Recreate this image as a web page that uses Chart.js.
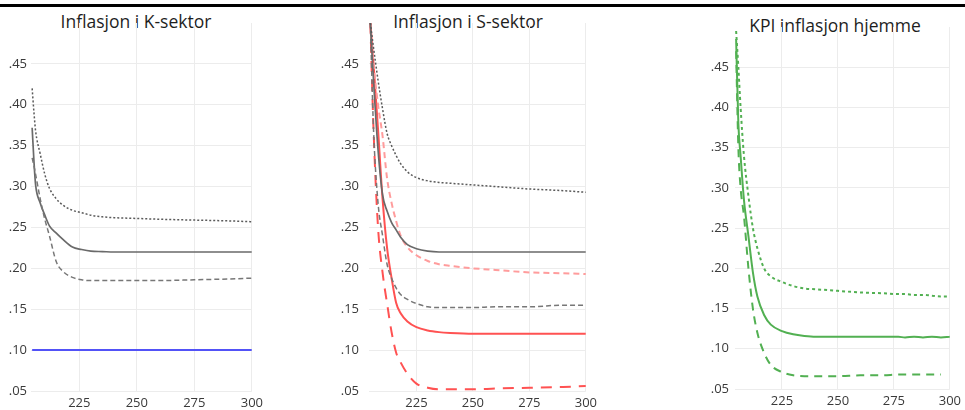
<!DOCTYPE html>
<html>
<head>
<meta charset="utf-8">
<script src="https://cdn.jsdelivr.net/npm/chart.js@4.4.1/dist/chart.umd.min.js"></script>
<style>
  body { margin: 0; width: 965px; height: 410px; background: #fff; position: relative; overflow: hidden; }
  .topbar { position: absolute; left: 0; top: 4px; width: 965px; height: 3px; background: #000; }
  canvas { position: absolute; top: 0; }
  .tittel { position: absolute; font-family: 'Open Sans', 'Noto Sans', sans-serif; font-size: 17.5px; line-height: 20px; color: #1e1e1e; white-space: nowrap; transform: translateX(-50%); }
</style>
</head>
<body>
<div class="topbar"></div>
<div class="tittel" style="left:136px; top:11px;">Inflasjon i K-sektor</div>
<div class="tittel" style="left:468px; top:11px;">Inflasjon i S-sektor</div>
<div class="tittel" style="left:835px; top:15px;">KPI inflasjon hjemme</div>
<canvas id="chartK" width="267" height="410" style="left:0px"></canvas>
<canvas id="chartS" width="271" height="410" style="left:330px"></canvas>
<canvas id="chartH" width="275" height="410" style="left:690px"></canvas>
<script>
// akser
const xTicks = [225, 250, 275, 300];
const yTicks = [0.05, 0.10, 0.15, 0.20, 0.25, 0.30, 0.35, 0.40, 0.45];

// K-sektor
const xK = [204.5, 205.3, 206, 208, 210, 212, 215, 218, 222, 226, 230, 235, 240, 250, 260, 275, 290, 300];
const kOvre = [0.42, 0.39, 0.368, 0.34, 0.315, 0.298, 0.285, 0.277, 0.271, 0.268, 0.265, 0.263, 0.262, 0.261, 0.26, 0.259, 0.258, 0.257];
const kMidt = [0.372, 0.33, 0.302, 0.28, 0.265, 0.252, 0.243, 0.235, 0.226, 0.223, 0.221, 0.2205, 0.22, 0.22, 0.22, 0.22, 0.22, 0.22];
const kNedre = [0.335, 0.325, 0.315, 0.285, 0.26, 0.24, 0.208, 0.196, 0.189, 0.186, 0.185, 0.185, 0.185, 0.185, 0.185, 0.186, 0.187, 0.188];
const kMaal = [0.10, 0.10, 0.10, 0.10, 0.10, 0.10, 0.10, 0.10, 0.10, 0.10, 0.10, 0.10, 0.10, 0.10, 0.10, 0.10, 0.10, 0.10];

// S-sektor
const xS = [204.6, 206, 208, 210, 212, 214, 216, 218, 221, 225, 230, 235, 240, 250, 260, 275, 290, 300];
const sGraOvre = [0.50, 0.47, 0.43, 0.395, 0.365, 0.35, 0.338, 0.328, 0.318, 0.311, 0.307, 0.305, 0.304, 0.302, 0.30, 0.297, 0.295, 0.293];
const sGraMidt = [0.50, 0.43, 0.345, 0.29, 0.27, 0.256, 0.247, 0.238, 0.229, 0.224, 0.221, 0.22, 0.22, 0.22, 0.22, 0.22, 0.22, 0.22];
const sGraNedre = [0.50, 0.37, 0.28, 0.24, 0.205, 0.188, 0.176, 0.168, 0.162, 0.157, 0.153, 0.152, 0.152, 0.152, 0.153, 0.153, 0.155, 0.155];
const sRodOvre = [0.50, 0.45, 0.40, 0.362, 0.31, 0.28, 0.258, 0.24, 0.226, 0.216, 0.209, 0.205, 0.203, 0.20, 0.198, 0.195, 0.194, 0.193];
const sRodMidt = [0.50, 0.45, 0.37, 0.285, 0.225, 0.188, 0.158, 0.145, 0.135, 0.128, 0.124, 0.122, 0.121, 0.12, 0.12, 0.12, 0.12, 0.12];
const sRodNedre = [0.50, 0.37, 0.25, 0.195, 0.157, 0.122, 0.097, 0.085, 0.071, 0.059, 0.054, 0.052, 0.052, 0.052, 0.053, 0.054, 0.055, 0.056];

// KPI hjemme
const xH = [204.5, 205.5, 206.5, 208, 210, 212, 214, 217, 220, 225, 230, 235, 240, 250, 260, 270, 277, 280, 284, 288, 292, 296, 300];
const hOvre = [0.495, 0.45, 0.40, 0.34, 0.29, 0.25, 0.225, 0.20, 0.19, 0.183, 0.178, 0.175, 0.174, 0.172, 0.17, 0.169, 0.168, 0.168, 0.167, 0.167, 0.166, 0.165, 0.165];
const hMidt = [0.485, 0.38, 0.34, 0.285, 0.24, 0.195, 0.165, 0.142, 0.13, 0.122, 0.118, 0.116, 0.115, 0.115, 0.115, 0.115, 0.115, 0.114, 0.115, 0.114, 0.115, 0.114, 0.115];
const hNedre = [0.47, 0.35, 0.30, 0.265, 0.20, 0.15, 0.12, 0.095, 0.08, 0.071, 0.067, 0.066, 0.066, 0.066, 0.067, 0.067, 0.068, 0.068, 0.068, 0.068, 0.068, 0.068, null];

const tickFont = { family: "'Open Sans', sans-serif", size: 13 };
const tickColor = '#3a3a3a';
const gridColor = '#ececec';

function serie(xs, ys, color, width, dash) {
  return {
    data: xs.map((x, i) => ({ x: x, y: ys[i] })),
    borderColor: color,
    borderWidth: width,
    borderDash: dash || [],
    pointRadius: 0,
    fill: false,
    cubicInterpolationMode: 'monotone',
    spanGaps: false
  };
}

function lagChart(id, datasets, cfg) {
  return new Chart(document.getElementById(id), {
    type: 'line',
    data: { datasets: datasets },
    options: {
      responsive: false,
      animation: false,
      layout: { padding: { top: cfg.top, right: cfg.right, left: 0, bottom: 0 } },
      plugins: { legend: { display: false }, tooltip: { enabled: false } },
      scales: {
        x: {
          type: 'linear',
          min: cfg.xmin,
          max: 300,
          afterBuildTicks: s => { s.ticks = xTicks.map(v => ({ value: v })); },
          afterFit: s => { s.height = cfg.xh; },
          grid: { color: gridColor, drawTicks: false },
          border: { display: false },
          ticks: { font: tickFont, color: tickColor, padding: 4, maxRotation: 0 }
        },
        y: {
          type: 'linear',
          min: 0.05,
          max: 0.5,
          afterBuildTicks: s => { s.ticks = yTicks.map(v => ({ value: v })); },
          afterFit: s => { s.width = cfg.yw; },
          grid: { color: gridColor, drawTicks: false },
          border: { display: false },
          ticks: {
            font: tickFont, color: tickColor, padding: cfg.ypad,
            callback: v => v.toFixed(2).replace(/^0/, '')
          }
        }
      }
    }
  });
}

lagChart('chartK', [
  serie(xK, kMaal, '#5252f7', 2),
  serie(xK, kNedre, '#777777', 1.5, [5, 3]),
  serie(xK, kMidt, '#6a6a6a', 1.7),
  serie(xK, kOvre, '#5a5a5a', 1.5, [2, 2])
], { top: 23, right: 14, xmin: 204, xh: 19, yw: 31, ypad: 4 });

lagChart('chartS', [
  serie(xS, sGraOvre, '#5a5a5a', 1.5, [2, 2]),
  serie(xS, sGraMidt, '#6a6a6a', 1.7),
  serie(xS, sGraNedre, '#777777', 1.5, [5, 3]),
  serie(xS, sRodOvre, '#ff9c9c', 2, [6, 4]),
  serie(xS, sRodNedre, '#ff5252', 2, [11, 8]),
  serie(xS, sRodMidt, '#ff5252', 2)
], { top: 23, right: 14, xmin: 204, xh: 19, yw: 39, ypad: 10 });

lagChart('chartH', [
  serie(xH, hOvre, '#52b052', 2, [3, 3]),
  serie(xH, hMidt, '#52b052', 2),
  serie(xH, hNedre, '#52b052', 2, [8, 6])
], { top: 27, right: 13, xmin: 204, xh: 21, yw: 45, ypad: 6 });
</script>
</body>
</html>
